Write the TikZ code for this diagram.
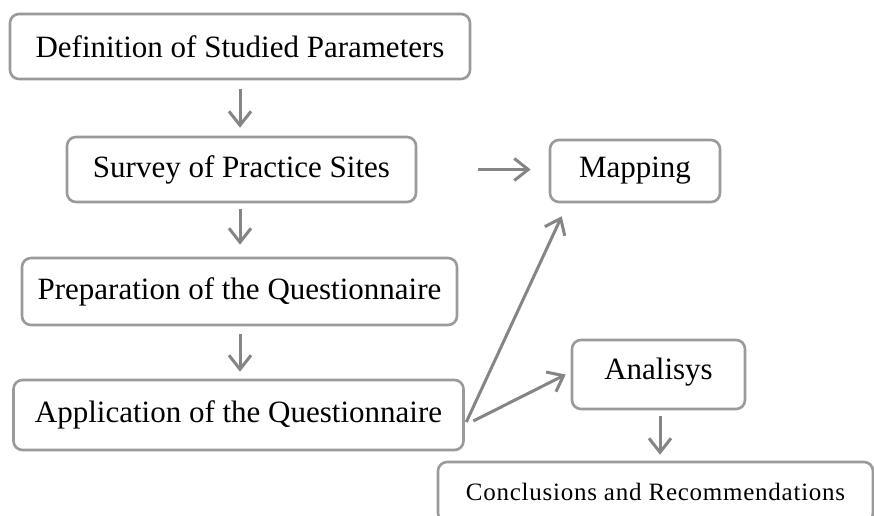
\documentclass[tikz,border=0pt]{standalone}
\usepackage{fontspec}
\setmainfont{Liberation Serif}
\usetikzlibrary{arrows.meta}
\definecolor{boxgray}{HTML}{9A9A9A}
\definecolor{arrgray}{HTML}{858585}
\tikzset{
  stepbox/.style={draw=boxgray, line width=2.6pt, rounded corners=9pt, fill=white,
    inner sep=0pt, align=center, font=\fontsize{31}{34}\selectfont},
  arr/.style={draw=arrgray, line width=3pt,
    -{Straight Barb[length=14pt,width=22pt,line width=3pt]}}
}
\begin{document}
\begin{tikzpicture}[x=1pt,y=-1pt]
\clip (0,0) rectangle (874,515);
\fill[white] (0,0) rectangle (874,515);
\node[stepbox, minimum width=460pt, minimum height=65pt] (b1) at (240,46.5) {Definition of Studied Parameters};
\node[stepbox, minimum width=349pt, minimum height=65pt] (b2) at (241.5,169.5) {Survey of Practice Sites};
\node[stepbox, minimum width=170pt, minimum height=62pt] (map) at (635,171) {Mapping};
\node[stepbox, minimum width=435pt, minimum height=67pt] (b3) at (239.5,291.5) {Preparation of the Questionnaire};
\node[stepbox, minimum width=450pt, minimum height=70pt] (b4) at (238.5,415) {Application of the Questionnaire};
\node[stepbox, minimum width=173pt, minimum height=69pt, text depth=12pt] (ana) at (658.5,374.5) {Analisys};
\node[stepbox, minimum width=435pt, minimum height=60pt, font=\fontsize{25}{28}\selectfont\addfontfeature{LetterSpace=3}] (conc) at (655.5,492) {Conclusions and Recommendations};

\draw[arr, shorten <=9pt, shorten >=8pt] (b1.south) -- (b1.south |- b2.north);
\draw[arr, shorten <=6pt, shorten >=12pt] (b1.south |- b2.south) -- (b1.south |- b3.north);
\draw[arr, shorten <=8pt, shorten >=7pt] (b1.south |- b3.south) -- (b1.south |- b4.north);
\draw[arr, shorten <=61pt, shorten >=18pt] (b2.east) -- (b2.east -| map.west);
\draw[arr] ([xshift=1.5pt,yshift=-7pt]b4.east) -- ([xshift=13pt,yshift=-13pt]map.south west);
\draw[arr] ([xshift=8.5pt,yshift=-6pt]b4.east) -- ([xshift=-5pt]ana.west);
\draw[arr, shorten <=6pt, shorten >=6pt] ([xshift=1.5pt]ana.south) -- ([xshift=1.5pt]ana.south |- conc.north);
\end{tikzpicture}
\end{document}
